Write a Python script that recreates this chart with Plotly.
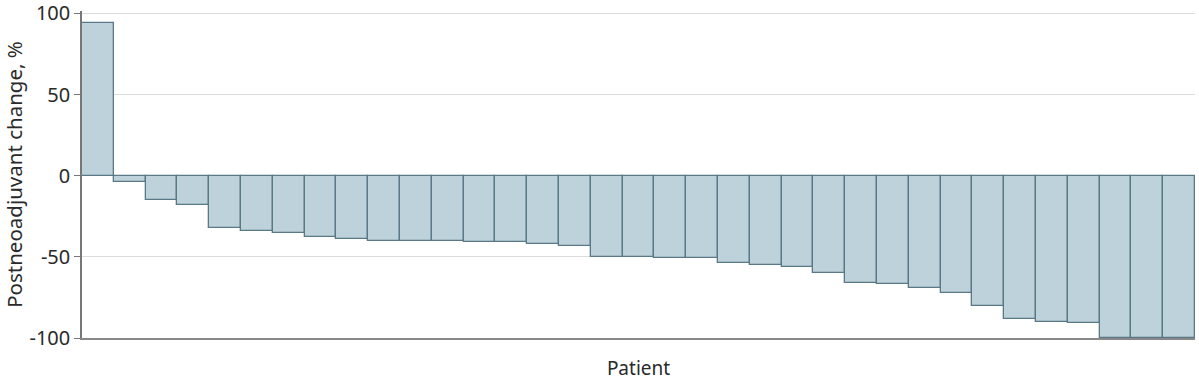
import plotly.graph_objects as go

patients = list(range(1, 36))
change = [94, -4, -15, -18, -32, -34, -35, -38, -39, -40,
          -40, -40, -41, -41, -42, -43, -50, -50, -51, -51,
          -54, -55, -56, -60, -66, -67, -69, -72, -80, -88,
          -90, -91, -100, -100, -100]
y_ticks = [-100, -50, 0, 50, 100]

fig = go.Figure(go.Bar(
    x=patients, y=change,
    marker=dict(color="#bed2db", line=dict(color="#587985", width=1.3)),
    width=1.0, hoverinfo="skip",
))

fig.update_layout(
    width=1199, height=381,
    margin=dict(l=82, r=4, t=11, b=43, autoexpand=False),
    plot_bgcolor="white", paper_bgcolor="white",
    font=dict(family="Noto Sans, Open Sans, sans-serif", color="#2a2a2a", size=20),
    bargap=0, showlegend=False,
)
fig.update_xaxes(
    range=[0.5, 35.5], showticklabels=False, showgrid=False, zeroline=False,
    showline=True, linecolor="#888", linewidth=1.5, automargin=False,
    title=dict(text="Patient", font=dict(size=19), standoff=24),
)
fig.update_yaxes(
    range=[-100, 101.5], tickmode="array", tickvals=y_ticks,
    ticktext=[str(v) for v in y_ticks], ticklabeloverflow="allow",
    showgrid=True, gridcolor="#dcdcdc", gridwidth=1, automargin=False,
    zeroline=True, zerolinecolor="#999", zerolinewidth=1.2,
    showline=True, linecolor="#777", linewidth=1.5,
    ticks="outside", ticklen=6, tickcolor="#777",
    title=dict(text="Postneoadjuvant change, %", font=dict(size=20.5), standoff=8),
)

fig.write_html(
    "out.html",
    config={"displayModeBar": False},
    post_script="document.body.style.margin='0';document.body.style.padding='0';",
)
